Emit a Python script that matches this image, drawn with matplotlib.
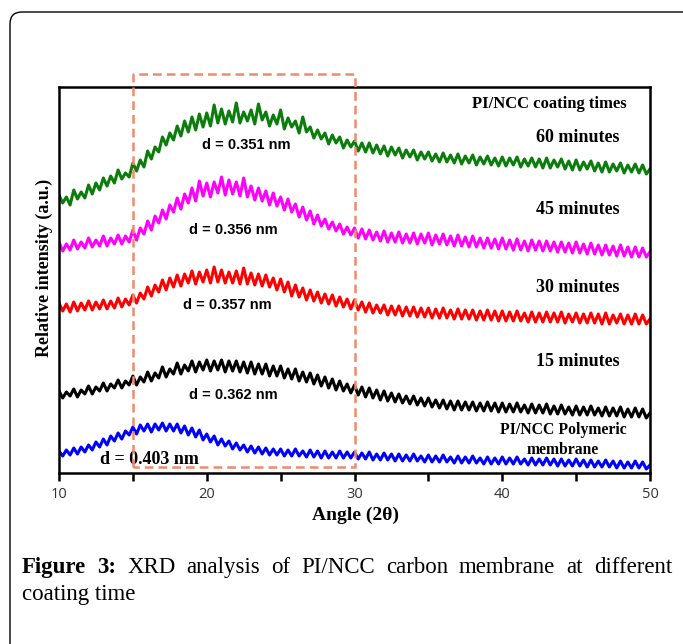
import numpy as np
import matplotlib
matplotlib.use("Agg")
import matplotlib.pyplot as plt
from matplotlib.patches import FancyBboxPatch

angle = np.linspace(10, 50, 161)

green_60 = [278, 270, 276, 268, 283, 274, 281, 275, 288, 279, 290, 283, 295, 287, 297, 290,
            303, 294, 300, 296, 310, 302, 313, 306, 322, 314, 326, 321, 336, 328, 340, 333,
            347, 337, 352, 341, 356, 343, 359, 346, 360, 347, 368, 350, 364, 349, 362, 351,
            370, 350, 361, 352, 363, 349, 369, 353, 361, 347, 358, 349, 363, 344, 355, 346,
            352, 340, 356, 341, 346, 335, 343, 334, 340, 329, 338, 330, 336, 325, 333, 326,
            332, 322, 330, 321, 330, 320, 328, 319, 327, 317, 326, 318, 325, 315, 323, 316,
            323, 313, 321, 314, 321, 312, 319, 311, 320, 311, 318, 310, 319, 309, 317, 310,
            318, 308, 316, 309, 317, 308, 315, 307, 316, 307, 315, 308, 316, 306, 314, 307,
            315, 306, 314, 305, 315, 305, 313, 306, 314, 304, 312, 303, 313, 303, 311, 304,
            312, 302, 310, 301, 311, 301, 309, 302, 310, 300, 308, 301, 309, 300, 308, 299,
            304]

magenta_45 = [231, 222, 229, 223, 233, 224, 231, 225, 235, 226, 233, 227, 237, 227, 235, 229,
              238, 229, 237, 231, 243, 233, 245, 239, 252, 243, 257, 250, 263, 254, 268, 261,
              275, 264, 279, 270, 285, 272, 292, 277, 290, 276, 291, 280, 296, 278, 293, 279,
              291, 277, 295, 276, 287, 273, 285, 272, 282, 268, 280, 267, 276, 263, 274, 261,
              269, 256, 266, 253, 262, 249, 258, 247, 254, 244, 251, 242, 249, 239, 246, 238,
              245, 235, 244, 234, 243, 233, 241, 232, 242, 231, 240, 231, 241, 230, 239, 230,
              240, 229, 239, 230, 240, 228, 238, 229, 239, 228, 237, 227, 238, 227, 236, 226,
              237, 226, 235, 225, 235, 225, 234, 224, 235, 224, 233, 223, 234, 223, 232, 222,
              233, 223, 232, 222, 232, 222, 231, 221, 231, 221, 230, 220, 231, 220, 229, 219,
              230, 219, 228, 218, 228, 218, 227, 217, 228, 217, 226, 216, 226, 216, 225, 216,
              221]

red_30 = [170, 162, 169, 161, 171, 162, 170, 163, 172, 163, 171, 164, 173, 164, 172, 165,
          175, 166, 174, 168, 178, 170, 180, 174, 186, 177, 188, 181, 193, 183, 195, 186,
          198, 187, 199, 190, 202, 189, 201, 191, 203, 190, 206, 191, 203, 190, 201, 190,
          202, 189, 205, 189, 200, 188, 199, 187, 198, 186, 195, 183, 194, 181, 191, 177,
          188, 176, 185, 173, 183, 172, 181, 170, 179, 169, 178, 167, 176, 166, 174, 164,
          173, 163, 171, 161, 170, 160, 168, 160, 168, 158, 167, 158, 167, 157, 166, 157,
          166, 156, 165, 156, 165, 155, 164, 155, 165, 155, 163, 154, 164, 154, 163, 154,
          163, 153, 162, 153, 163, 153, 162, 152, 162, 152, 161, 152, 162, 152, 160, 151,
          161, 151, 160, 151, 161, 151, 160, 151, 161, 150, 159, 151, 160, 150, 159, 150,
          160, 150, 159, 149, 160, 149, 158, 150, 159, 149, 158, 149, 159, 149, 158, 149,
          154]

black_15 = [82, 75, 81, 77, 84, 76, 83, 79, 87, 79, 86, 82, 90, 82, 89, 85,
            93, 85, 92, 88, 97, 88, 96, 91, 101, 92, 100, 95, 106, 96, 104, 99,
            110, 99, 108, 102, 112, 101, 111, 103, 113, 102, 112, 103, 113, 101, 112, 102,
            112, 101, 111, 100, 111, 99, 109, 99, 109, 97, 107, 97, 107, 95, 104, 94,
            104, 92, 101, 91, 100, 89, 98, 87, 96, 85, 94, 83, 92, 82, 89, 80,
            88, 78, 86, 76, 85, 75, 83, 73, 82, 72, 80, 71, 79, 70, 77, 69,
            77, 68, 75, 67, 75, 66, 73, 65, 73, 64, 72, 63, 72, 63, 71, 63,
            71, 62, 70, 62, 71, 62, 70, 61, 70, 61, 69, 61, 70, 61, 68, 60,
            69, 60, 68, 60, 69, 59, 67, 59, 68, 59, 66, 58, 67, 58, 66, 58,
            67, 58, 65, 57, 66, 57, 65, 57, 66, 56, 64, 56, 65, 56, 64, 55,
            60]

blue_pi = [22, 17, 23, 18, 25, 19, 26, 21, 28, 23, 31, 26, 34, 28, 37, 32,
           40, 34, 42, 38, 46, 39, 48, 42, 49, 41, 49, 43, 50, 42, 49, 42,
           49, 40, 47, 38, 45, 36, 43, 33, 39, 31, 37, 28, 34, 27, 32, 24,
           30, 23, 28, 21, 27, 20, 26, 19, 25, 18, 24, 18, 24, 17, 23, 17,
           24, 17, 22, 16, 23, 16, 22, 15, 22, 15, 21, 15, 22, 15, 21, 15,
           21, 14, 20, 14, 21, 13, 19, 13, 20, 13, 19, 12, 19, 12, 18, 12,
           19, 12, 17, 11, 18, 11, 17, 11, 18, 11, 16, 10, 17, 10, 16, 10,
           17, 10, 15, 9, 16, 9, 15, 9, 16, 9, 15, 9, 16, 9, 14, 8,
           15, 8, 14, 8, 15, 8, 14, 7, 14, 7, 13, 7, 14, 7, 13, 6,
           13, 6, 12, 6, 13, 6, 12, 5, 12, 5, 11, 5, 12, 5, 11, 4,
           8]

series = [green_60, magenta_45, red_30, black_15, blue_pi]
colors = ["#0b7d0b", "#ff00ff", "#ff0000", "#000000", "#0000ff"]

time_labels = ["60 minutes", "45 minutes", "30 minutes", "15 minutes"]
d_labels = ["d = 0.351 nm", "d = 0.356 nm", "d = 0.357 nm", "d = 0.362 nm"]

W, H = 683, 644
fig = plt.figure(figsize=(W / 100, H / 100), dpi=100)

# rounded frame round the whole figure (cut at right and bottom)
frame = FancyBboxPatch((10, -40), 740, H - 12 + 40, boxstyle="round,pad=0,rounding_size=12",
                       transform=None, fill=False, ec="black", lw=1.0)
fig.patches.append(frame)

ax = fig.add_axes([59 / W, 1 - 473 / H, 591 / W, 386 / H])
for y, c in zip(series, colors):
    ax.plot(angle, y, color=c, lw=2.2)

ax.set_xlim(10, 50)
ax.set_ylim(0, 386)
ax.set_yticks([])
ax.set_xticks([10, 20, 30, 40, 50])
ax.set_xticks([15, 25, 35, 45], minor=True)
ax.tick_params(axis="x", which="both", direction="out", length=6, width=1.8,
               labelsize=10.5, labelcolor="#333333", pad=4)
for lab in ax.get_xticklabels():
    lab.set_family("Open Sans")
for s in ax.spines.values():
    s.set_linewidth(1.8)

# dashed region 15-30 degrees
ax.plot([15, 15, 30, 30, 15], [6, 399, 399, 6, 6], color="#f08a6c", lw=1.8,
        dashes=(3.5, 2), clip_on=False, zorder=5)

serif_b = dict(family="Liberation Serif", weight="bold")
ax.text(43.2, 369, "PI/NCC coating times", ha="center", va="center", fontsize=12, **serif_b)
for lab, yy in zip(time_labels, [336, 264, 185, 111]):
    ax.text(45.1, yy, lab, ha="center", va="center", fontsize=13, **serif_b)
ax.text(44.1, 43, "PI/NCC Polymeric", ha="center", va="center", fontsize=11.3, **serif_b)
ax.text(44.1, 23, "membrane", ha="center", va="center", fontsize=11.3, **serif_b)

for lab, xx, yy in zip(d_labels, [22.7, 21.8, 21.4, 21.8], [328, 243, 168, 78]):
    ax.text(xx, yy, lab, ha="center", va="center", fontsize=10.5,
            family="Liberation Sans", weight="bold")
ax.text(16.1, 13, "d = 0.403 nm", ha="center", va="center", fontsize=13, **serif_b)

fig.text(355 / W, 1 - 515 / H, "Angle (2\u03b8)", ha="center", va="center", fontsize=14, **serif_b)
fig.text(44 / W, 1 - 268 / H, "Relative intensity (a.u.)", rotation=90, ha="center",
         va="center", fontsize=13, **serif_b)

# justified caption
renderer = fig.canvas.get_renderer()
line1 = [("Figure", True), ("3:", True), ("XRD", False), ("analysis", False), ("of", False),
         ("PI/NCC", False), ("carbon", False), ("membrane", False), ("at", False),
         ("different", False)]
texts = []
for word, bold in line1:
    t = fig.text(0, 1 - 573 / H, word, fontsize=16.5, family="Liberation Serif",
                 weight="bold" if bold else "normal", va="baseline")
    texts.append(t)
widths = [t.get_window_extent(renderer).width for t in texts]
left, right = 22, 672
gap = (right - left - sum(widths)) / (len(texts) - 1)
xpos = left
for t, w in zip(texts, widths):
    t.set_x(xpos / W)
    xpos += w + gap
fig.text(22 / W, 1 - 600 / H, "coating time", fontsize=16.5, family="Liberation Serif",
         va="baseline")

fig.savefig("out.png", dpi=100)
